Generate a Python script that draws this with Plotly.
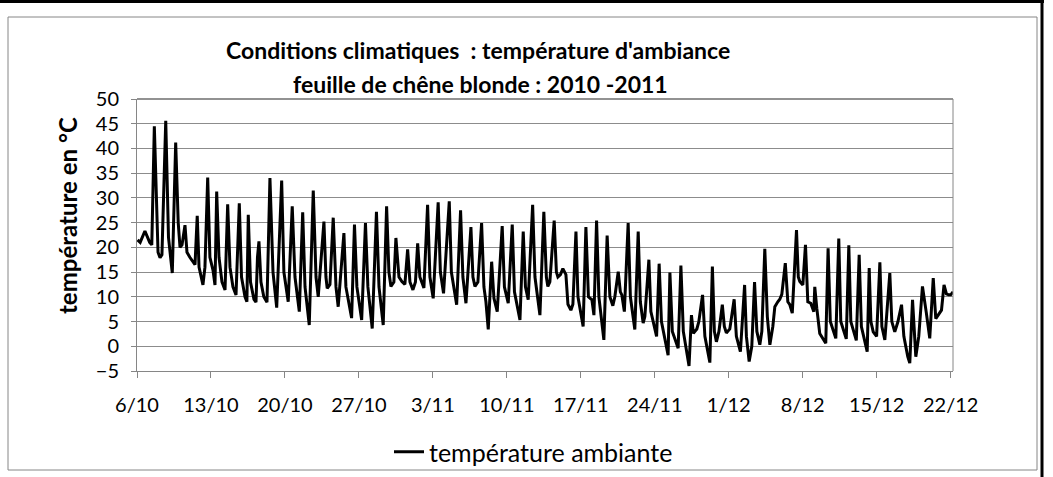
import pandas as pd
import plotly.graph_objects as go

# ---- data ----
start_date = "2010-10-06"
elapsed_days = [
    0.05, 0.30, 0.75, 1.20, 1.40, 1.64, 1.99, 2.18, 2.36, 2.72, 2.98, 3.34, 3.66, 3.90, 4.07, 4.26, 4.54, 4.73,
    5.00, 5.30, 5.49, 5.70, 5.87, 6.24, 6.43, 6.69, 6.90, 7.19, 7.38, 7.54, 7.76, 8.04, 8.33, 8.58, 8.80, 9.08,
    9.37, 9.68, 9.89, 10.22, 10.40, 10.53, 10.74, 11.07, 11.26, 11.40, 11.54, 11.73, 12.00, 12.30, 12.58, 12.87,
    13.22, 13.69, 13.90, 14.31, 14.69, 14.95, 15.36, 15.68, 15.90, 16.30, 16.68, 16.94, 17.15, 17.69, 17.88, 18.00,
    18.26, 18.57, 18.83, 19.04, 19.58, 19.77, 20.31, 20.58, 20.81, 21.26, 21.62, 21.85, 22.26, 22.66, 22.90, 23.30,
    23.62, 23.84, 24.03, 24.31, 24.50, 24.79, 25.07, 25.35, 25.61, 25.83, 26.11, 26.35, 26.56, 26.77, 27.15, 27.50,
    27.72, 28.03, 28.50, 28.71, 29.01, 29.55, 29.75, 30.25, 30.62, 30.84, 31.13, 31.60, 31.79, 31.98, 32.26, 32.61,
    32.83, 33.02, 33.24, 33.56, 33.78, 34.09, 34.56, 34.77, 35.13, 35.51, 35.72, 36.24, 36.55, 36.76, 37.02, 37.44,
    37.66, 38.13, 38.50, 38.74, 38.88, 39.07, 39.48, 39.69, 39.83, 40.07, 40.30, 40.59, 40.78, 41.06, 41.25, 41.54,
    41.73, 42.22, 42.48, 42.72, 43.05, 43.24, 43.49, 43.71, 44.18, 44.49, 44.75, 45.03, 45.22, 45.54, 45.74, 45.88,
    46.12, 46.48, 46.69, 47.11, 47.43, 47.63, 47.90, 48.06, 48.44, 48.63, 49.17, 49.41, 49.63, 50.26, 50.43, 50.66,
    51.21, 51.47, 51.70, 52.24, 52.47, 52.65, 52.98, 53.17, 53.52, 53.74, 54.21, 54.45, 54.64, 54.83, 55.07, 55.39,
    55.58, 55.77, 56.10, 56.51, 56.72, 57.10, 57.50, 57.67, 57.93, 58.18, 58.44, 58.66, 58.94, 59.13, 59.41, 59.65,
    59.89, 60.17, 60.36, 60.64, 60.83, 61.02, 61.35, 61.59, 61.78, 62.01, 62.41, 62.58, 62.72, 63.01, 63.26, 63.48,
    63.76, 64.05, 64.14, 64.33, 64.61, 65.18, 65.40, 65.61, 66.13, 66.41, 66.60, 67.12, 67.36, 67.55, 68.07, 68.34,
    68.55, 69.10, 69.29, 69.45, 69.67, 69.99, 70.30, 70.49, 70.77, 71.24, 71.43, 71.71, 72.00, 72.35, 72.57, 72.94,
    73.13, 73.39, 73.70, 73.98, 74.33, 74.70, 75.02, 75.35, 75.59, 76.13, 76.37, 76.60, 76.81, 77.00, 77.22,
]
temperature = [
    21.5, 21.0, 23.3, 21.0, 20.5, 44.5, 19.0, 17.9, 18.5, 45.6, 22.0, 14.8, 41.2, 25.0, 20.0, 20.5, 24.5, 19.0,
    18.0, 17.0, 16.5, 26.4, 16.0, 12.4, 16.0, 34.1, 18.0, 15.4, 12.4, 31.3, 18.0, 13.0, 11.4, 28.7, 16.0, 12.0,
    10.4, 28.9, 14.0, 10.0, 9.0, 26.6, 13.0, 9.5, 8.9, 18.0, 21.2, 13.0, 10.0, 8.9, 34.0, 15.0,
    7.8, 33.5, 15.0, 9.0, 28.3, 14.0, 7.0, 27.1, 12.0, 4.3, 31.5, 14.0, 10.0, 25.2, 14.0, 11.7,
    12.5, 26.0, 12.0, 8.0, 22.9, 12.0, 5.7, 24.6, 12.0, 5.3, 24.9, 12.0, 3.6, 27.2, 12.0, 4.3,
    28.3, 15.0, 12.1, 13.0, 21.9, 14.0, 13.1, 12.5, 19.6, 13.0, 11.4, 13.0, 20.8, 14.0, 11.8, 28.6,
    14.0, 9.7, 29.1, 15.0, 10.7, 29.3, 15.0, 8.4, 27.5, 14.0, 8.7, 24.1, 14.0, 12.1, 13.0, 24.9,
    12.0, 9.0, 3.4, 17.1, 9.7, 7.0, 24.3, 12.0, 8.7, 24.6, 11.0, 5.3, 23.2, 12.0, 9.4, 28.6,
    14.0, 6.3, 27.2, 14.0, 12.1, 13.0, 25.4, 15.0, 14.0, 14.5, 15.7, 14.5, 8.5, 7.3, 8.5, 23.2,
    10.0, 4.0, 24.1, 10.0, 9.4, 6.3, 25.4, 10.0, 1.3, 22.4, 10.0, 8.2, 10.0, 15.1, 11.0, 10.4,
    7.0, 24.9, 10.0, 3.4, 23.2, 9.0, 4.7, 6.0, 17.5, 7.0, 2.0, 16.7, 5.0, -1.8, 14.9, 3.0,
    -0.4, 16.3, 3.0, -4.0, 6.3, 2.6, 3.5, 5.0, 10.4, 2.0, -3.3, 16.1, 3.0, 0.9, 3.0, 8.4,
    4.0, 2.7, 3.5, 9.5, 2.0, -1.1, 12.4, 2.0, -3.1, 0.0, 13.0, 3.0, 0.3, 3.0, 19.7, 6.0,
    0.3, 4.0, 8.0, 9.0, 9.5, 10.5, 16.8, 9.0, 8.4, 6.7, 23.5, 14.0, 13.1, 12.4, 20.5, 9.0,
    8.7, 7.0, 12.0, 7.7, 2.6, 0.6, 19.8, 5.0, 1.6, 21.8, 5.0, 1.5, 20.4, 5.0, 1.2, 18.5,
    4.0, -1.1, 15.8, 5.0, 2.9, 2.0, 17.0, 4.0, 1.3, 14.8, 5.0, 2.9, 4.9, 8.4, 2.0, -2.1,
    -3.4, 9.4, -2.1, 2.0, 12.1, 6.7, 1.6, 13.8, 5.6, 7.3, 12.4, 10.6, 10.4, 10.4, 11.0,
]
tick_dates = ["2010-10-06", "2010-10-13", "2010-10-20", "2010-10-27", "2010-11-03", "2010-11-10",
              "2010-11-17", "2010-11-24", "2010-12-01", "2010-12-08", "2010-12-15", "2010-12-22"]
tick_labels = ["6/10", "13/10", "20/10", "27/10", "3/11", "10/11",
               "17/11", "24/11", "1/12", "8/12", "15/12", "22/12"]
y_ticks = [-5, 0, 5, 10, 15, 20, 25, 30, 35, 40, 45, 50]
series_name = "température ambiante"
title_line1 = "Conditions climatiques  : température d'ambiance"
title_line2 = "feuille de chêne blonde : 2010 -2011"
y_title = "température en °C"

x_vals = pd.Timestamp(start_date) + pd.to_timedelta(elapsed_days, unit="D")

FONT = "Lato"
fig = go.Figure()
fig.add_trace(go.Scatter(
    x=x_vals, y=temperature, mode="lines", name=series_name,
    line=dict(color="black", width=3),
))

W, H = 1053, 477
L, R, T, B = 137, 100, 99, 106
pw, ph = W - L - R, H - T - B

def px_x(p):
    return (p - L) / pw

def px_y(p):
    return (H - B - p) / ph

fig.update_layout(
    width=W, height=H,
    margin=dict(l=L, r=R, t=T, b=B, autoexpand=False),
    paper_bgcolor="white", plot_bgcolor="white",
    font=dict(family=FONT, size=20, color="black"),
    showlegend=True,
    legend=dict(orientation="h", x=px_x(389), y=px_y(452), xanchor="left", yanchor="middle",
                font=dict(family=FONT, size=25), bgcolor="rgba(0,0,0,0)"),
    xaxis=dict(
        type="date",
        range=[pd.Timestamp(start_date), x_vals[-1]],
        tickvals=pd.to_datetime(tick_dates), ticktext=tick_labels,
        ticks="outside", ticklen=6, tickcolor="#868686", ticklabelstandoff=10,
        showgrid=False, showline=True, linecolor="#868686", linewidth=1,
        zeroline=False, mirror=False, automargin=False,
        tickfont=dict(family=FONT, size=20),
    ),
    yaxis=dict(
        range=[-5, 50], tickvals=y_ticks,
        ticks="outside", ticklen=5, tickcolor="#868686", ticklabelstandoff=8,
        showgrid=True, gridcolor="#8c8c8c", gridwidth=1,
        showline=True, linecolor="#868686", linewidth=1, zeroline=False, automargin=False,
        tickfont=dict(family=FONT, size=20),
    ),
    annotations=[
        dict(text="<b>" + title_line1 + "</b>", x=px_x(478), y=px_y(50), xref="paper", yref="paper",
             showarrow=False, xanchor="center", yanchor="middle", font=dict(family=FONT, size=23)),
        dict(text="<b>" + title_line2 + "</b>", x=px_x(480), y=px_y(84), xref="paper", yref="paper",
             showarrow=False, xanchor="center", yanchor="middle", font=dict(family=FONT, size=23)),
        dict(text="<b>" + y_title + "</b>", x=px_x(67), y=px_y(216), xref="paper", yref="paper",
             showarrow=False, xanchor="center", yanchor="middle", textangle=-90,
             font=dict(family=FONT, size=24)),
    ],
    shapes=[
        dict(type="line", xref="paper", yref="paper", x0=0, x1=1, y0=1, y1=1,
             line=dict(color="#6e6e6e", width=1.5)),
        dict(type="line", xref="paper", yref="paper", x0=1, x1=1, y0=0, y1=1,
             line=dict(color="#868686", width=1)),
        dict(type="rect", xref="paper", yref="paper", x0=px_x(8), x1=px_x(1037), y0=px_y(470), y1=px_y(17),
             line=dict(color="#868686", width=1), layer="below"),
        dict(type="line", xref="paper", yref="paper", x0=px_x(0), x1=px_x(1044), y0=px_y(1.5), y1=px_y(1.5),
             line=dict(color="black", width=3)),
        dict(type="line", xref="paper", yref="paper", x0=px_x(1042), x1=px_x(1042), y0=px_y(477), y1=px_y(0),
             line=dict(color="black", width=3)),
    ],
)

fig.write_html("out.html", config={"displayModeBar": False},
               post_script="document.body.style.margin='0';document.body.style.overflow='hidden';")
